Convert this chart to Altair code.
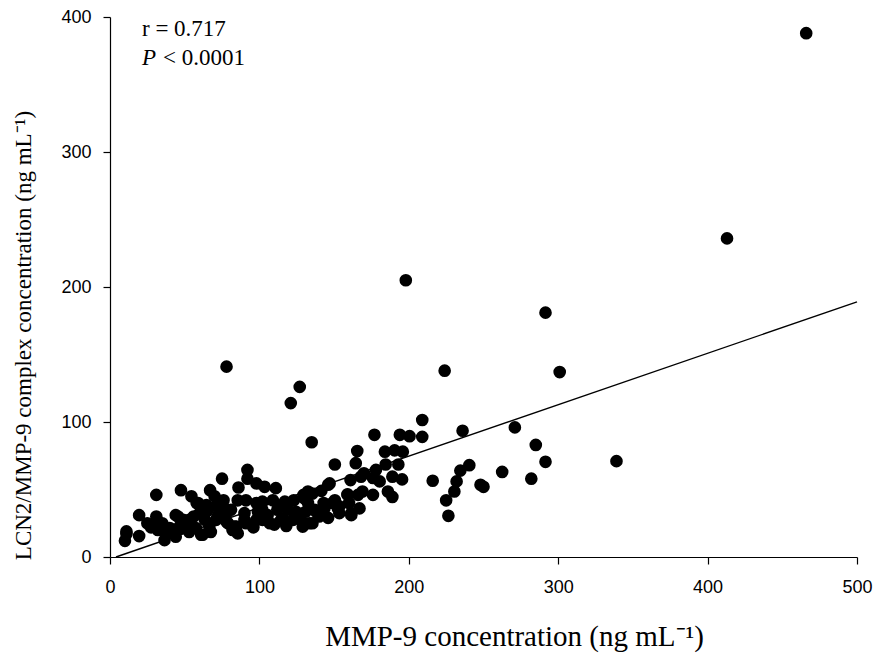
import altair as alt
import pandas as pd

# MMP-9 concentration (ng/mL)
mmp9 = [
    466, 413, 339, 291.5, 301, 198, 78, 127, 121, 224, 135, 209, 177, 194, 200.5, 209,
    236, 271, 285, 291.5, 282, 262.5, 248, 250, 240.5, 234.5, 232, 230.5, 225, 226.5, 216,
    165.5, 184, 190.5, 196, 150.5, 164.5, 184.5, 193, 170, 178, 161, 168, 176, 180.5, 189,
    195.5, 147, 149, 152.5, 159, 166, 169, 176, 186, 189, 161.5, 167, 160, 153.5, 159, 161.5,
    92, 92, 98, 103.5, 111, 75, 67, 86, 47.5, 54.5, 31, 19.5, 58, 64.5, 85.5, 91, 98, 102,
    109, 129.5, 135.5, 141.5, 146, 132.5, 130, 150.5, 153.5, 132.5, 138, 133.5, 31, 11, 10,
    19.5, 28.5, 35, 40, 45.5, 46.5, 37.5, 44.5, 51, 57.5, 62, 66.5, 71, 76.5, 78, 84.5, 85.5,
    91, 98, 102, 107, 113.5, 119, 124.5, 115.5, 122.5, 127, 129, 135.5, 71, 60, 53, 102,
    104.5, 49, 44, 36.5, 44, 32, 41, 53, 61, 67.5, 63.5, 72, 78, 79, 82, 81, 90, 99, 105.5,
    112, 131, 137, 143.5, 83.5, 90, 114.5, 123.5, 130, 59, 27.5, 47.5, 11, 25, 96, 110, 118,
    140, 146, 117, 123, 143, 70, 76, 56, 65,
]
# LCN2/MMP-9 complex concentration (ng/mL)
lcn2 = [
    388, 236, 71, 181, 137, 205, 141, 126, 114, 138, 85, 101.5, 90.5, 90.5, 89.5, 89,
    93.5, 96, 83, 70.5, 58, 63, 53.5, 52, 68, 64, 56, 48.5, 42, 30.5, 56.5,
    78.5, 78, 79, 78, 68.5, 69.5, 68.5, 68.5, 62, 64.5, 57, 59.5, 58.5, 56, 59.5,
    57.5, 54.5, 40, 36, 46.5, 46, 48.5, 46, 48.5, 44.5, 32.5, 36, 40, 32.5, 46, 31,
    64.5, 58, 54.5, 52, 51, 58, 49.5, 51.5, 49.5, 45, 46, 31, 40, 38.5, 42, 42, 40, 41,
    42, 46, 47, 49, 53.5, 48.5, 43.5, 42, 37.5, 40, 33.5, 25, 30, 19, 12,
    15.5, 22.5, 25, 21.5, 30, 22.5, 17.5, 20, 22.5, 21.5, 16.5, 22.5, 27.5, 36, 26, 22.5, 17.5,
    25, 27.5, 27.5, 25, 37.5, 35, 33.5, 28.5, 27.5, 30, 22.5, 25, 37.5, 32.5, 27.5, 35,
    30, 27.5, 31, 12.5, 15, 20, 18.5, 18.5, 16.5, 18.5, 27.5, 30, 32.5, 25, 20, 35, 32.5, 33.5, 31,
    35, 33.5, 35, 36, 22.5, 27.5, 27.5, 28.5, 25, 40, 22, 21.5, 17, 25, 22, 24, 23,
    30, 29, 41, 42, 40, 45, 42, 30, 34,
]

# Regression line endpoints
fit_x = [4, 500]
fit_y = [0, 189]

# Annotation texts (data coordinates)
ann_text = ["r = 0.717", "< 0.0001"]
ann_x = [21.4, 35.5]
ann_y = [386, 364.5]
ann_p_text = ["P"]
ann_p_x = [21.4]
ann_p_y = [364.5]

x_title = "MMP-9 concentration (ng mL⁻¹)"
y_title = "LCN2/MMP-9 complex concentration (ng mL⁻¹)"

pts = pd.DataFrame({"x": mmp9, "y": lcn2})
fit = pd.DataFrame({"x": fit_x, "y": fit_y})
ann = pd.DataFrame({"x": ann_x, "y": ann_y, "t": ann_text})
annp = pd.DataFrame({"x": ann_p_x, "y": ann_p_y, "t": ann_p_text})

xs = alt.Scale(domain=[0, 500], nice=False, zero=False)
ys = alt.Scale(domain=[0, 400], nice=False, zero=False)

x_axis = alt.Axis(
    values=[0, 100, 200, 300, 400, 500], grid=False, domainColor="black",
    tickColor="black", tickSize=7, domainWidth=1.2, tickWidth=1.2,
    labelFont="Liberation Sans", labelFontSize=18, labelColor="black",
    labelPadding=14, labelFlush=False,
    title=x_title, titleFont="Liberation Serif", titleFontSize=29,
    titleFontWeight="normal", titleColor="black",
    titleX=404, titleY=88, titleAlign="center", titleBaseline="alphabetic",
    titleAnchor="start",
)
y_axis = alt.Axis(
    values=[0, 100, 200, 300, 400], grid=False, domainColor="black",
    tickColor="black", tickSize=7, domainWidth=1.2, tickWidth=1.2,
    labelFont="Liberation Sans", labelFontSize=18, labelColor="black",
    labelPadding=12, labelFlush=False,
    title=y_title, titleFont="Liberation Serif", titleFontSize=23,
    titleFontWeight="normal", titleColor="black",
    titleX=-80, titleY=318, titleAngle=270, titleAlign="center",
    titleBaseline="alphabetic", titleAnchor="start",
)

xe = alt.X("x:Q", scale=xs, axis=x_axis)
ye = alt.Y("y:Q", scale=ys, axis=y_axis)

points = alt.Chart(pts).mark_circle(size=160, color="black", opacity=1).encode(x=xe, y=ye)
line = alt.Chart(fit).mark_line(color="black", strokeWidth=1.4).encode(x=xe, y=ye)
texts = alt.Chart(ann).mark_text(
    align="left", baseline="alphabetic", font="Liberation Serif", fontSize=23, color="black"
).encode(x=xe, y=ye, text="t:N")
ptext = alt.Chart(annp).mark_text(
    align="left", baseline="alphabetic", font="Liberation Serif", fontSize=23,
    fontStyle="italic", color="black"
).encode(x=xe, y=ye, text="t:N")

chart = alt.layer(line, points, texts, ptext).properties(
    width=747, height=540,
    autosize=alt.AutoSizeParams(type="none"),
    padding={"left": 110, "top": 17, "right": 20, "bottom": 104},
    background="white",
).configure_view(stroke=None)

chart.save("out.html", embed_options={"renderer": "svg", "actions": False})
